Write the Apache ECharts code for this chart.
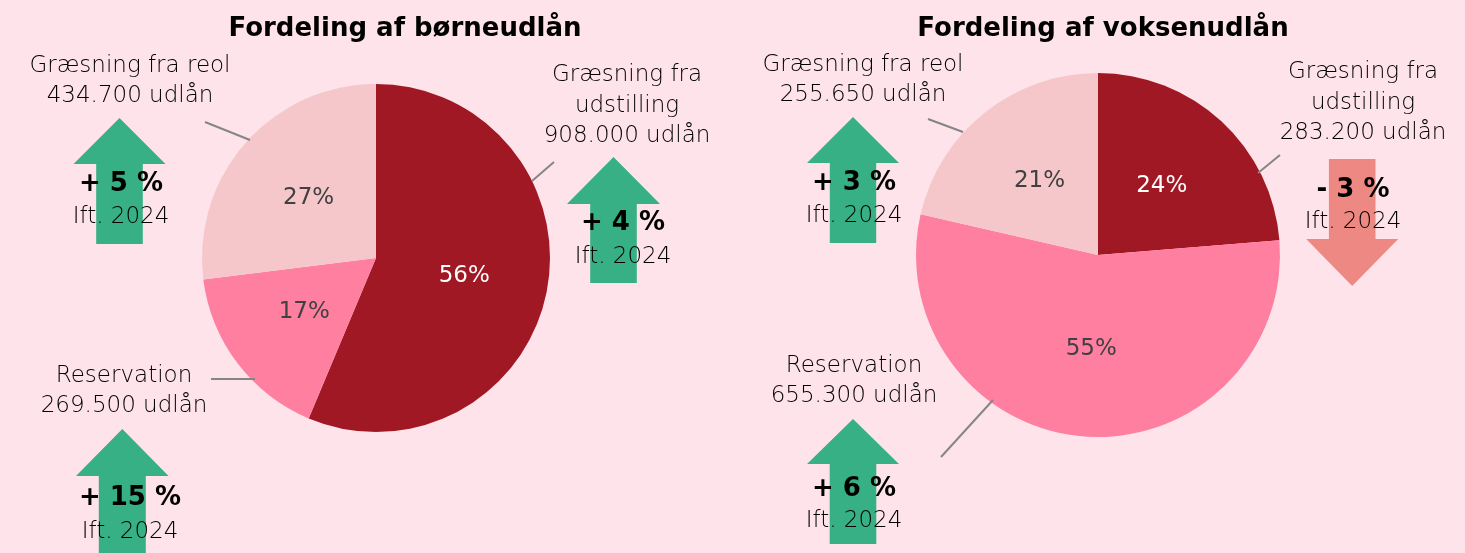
<!DOCTYPE html>
<html>
<head>
<meta charset="utf-8">
<script src="https://cdn.jsdelivr.net/npm/echarts@6/dist/echarts.min.js"></script>
<style>
html,body{margin:0;padding:0;background:#FEE4EA;}
#c{width:1465px;height:553px;}
</style>
</head>
<body>
<div id="c"></div>
<script>
// ---- data ----
const titles = ['Fordeling af børneudlån', 'Fordeling af voksenudlån'];
const categories = ['Græsning fra udstilling', 'Reservation', 'Græsning fra reol'];
const childValues = [908000, 269500, 434700];
const adultValues = [283200, 655300, 255650];
const childChange = [4, 15, 5];   // % vs 2024
const adultChange = [-3, 6, 3];
const compareLabel = 'Ift. 2024';

const sliceColors = ['#A11825', '#FF7FA1', '#F5C7CA'];
const insideLabelColors = ['#FFFFFF', '#404040', '#404040'];
const FONT = 'DejaVu Sans';

function fmt(v){ return String(v).replace(/\B(?=(\d{3})+(?!\d))/g, '.') + ' udlån'; }
function labelLines(i, v){
  if (i === 0) return 'Græsning fra\nudstilling\n' + fmt(v);
  if (i === 1) return 'Reservation\n' + fmt(v);
  return 'Græsning fra reol\n' + fmt(v);
}
function changeText(c){ return (c >= 0 ? '+ ' : '- ') + Math.abs(c) + ' %'; }

function pieSeries(values, center, radius){
  return {
    type: 'pie',
    center: center,
    radius: radius,
    startAngle: 90,
    clockwise: true,
    silent: true,
    label: {
      show: true, position: 'inside',
      fontFamily: FONT, fontSize: 23, fontWeight: 'normal',
      formatter: p => Math.round(p.percent) + '%'
    },
    labelLine: { show: false },
    data: values.map((v, i) => ({
      name: categories[i], value: v,
      itemStyle: { color: sliceColors[i] },
      label: { color: insideLabelColors[i] }
    }))
  };
}

// layout (positions only)
const labelPos = [
  [[627, 106], [124, 391], [130, 81]],
  [[1363, 103], [854, 381], [863, 80]]
];
const leaderLines = [
  [[[532, 181], [554, 162]], [[211, 379], [255, 379]], [[205, 122], [250, 140]]],
  [[[1258, 173], [1280, 155]], [[941, 457], [993, 400]], [[928, 119], [963, 132]]]
];
// arrow geometry: cx, tipY, headBaseY, endY, headHalf, shaftHalf
const arrowGeom = [
  [[613.5, 157, 204, 283, 46.5, 23.3], [122.3, 429, 476, 560, 46.3, 23.5], [119.5, 118, 164, 244, 46, 23.3]],
  [[1352.2, 286, 239, 159, 46, 23.3], [853, 419, 464, 544, 46, 23.3], [853, 117, 163, 243, 46, 23.2]]
];
const changeTextPos = [
  [[623, 223, 257], [130, 498, 532], [121, 184, 217]],
  [[1353, 190, 222], [854, 489, 521], [854, 183, 216]]
];

const graphics = [];
[childValues, adultValues].forEach((vals, p) => {
  const changes = p === 0 ? childChange : adultChange;
  vals.forEach((v, i) => {
    const [x, y] = labelPos[p][i];
    graphics.push({
      type: 'text', x: x, y: y, z: 5,
      style: { text: labelLines(i, v), fill: '#000', font: '300 23px "' + FONT + '"',
               align: 'center', verticalAlign: 'middle', lineHeight: 30.5 }
    });
    const ln = leaderLines[p][i];
    graphics.push({ type: 'line', z: 5,
      shape: { x1: ln[0][0], y1: ln[0][1], x2: ln[1][0], y2: ln[1][1] },
      style: { stroke: '#858585', lineWidth: 2 } });
    const [cx, tip, hb, end, hh, sh] = arrowGeom[p][i];
    const up = changes[i] >= 0;
    graphics.push({ type: 'polygon', z: 3,
      shape: { points: [[cx, tip], [cx + hh, hb], [cx + sh, hb], [cx + sh, end], [cx - sh, end], [cx - sh, hb], [cx - hh, hb]] },
      style: { fill: up ? '#36B084' : '#EE8882' } });
    const [tx, ty1, ty2] = changeTextPos[p][i];
    graphics.push({ type: 'text', x: tx, y: ty1, z: 6,
      style: { text: changeText(changes[i]), fill: '#000', font: 'bold 26px "' + FONT + '"',
               align: 'center', verticalAlign: 'middle' } });
    graphics.push({ type: 'text', x: tx, y: ty2, z: 6,
      style: { text: compareLabel, fill: '#000', font: '300 23px "' + FONT + '"',
               align: 'center', verticalAlign: 'middle' } });
  });
});

const chart = echarts.init(document.getElementById('c'), null, { renderer: 'canvas' });
chart.setOption({
  backgroundColor: '#FEE4EA',
  animation: false,
  title: [
    { text: titles[0], left: 400, top: 24, textAlign: 'center', textVerticalAlign: 'middle',
      textStyle: { fontFamily: FONT, fontWeight: 'bold', fontSize: 26, color: '#000' } },
    { text: titles[1], left: 1098, top: 24, textAlign: 'center', textVerticalAlign: 'middle',
      textStyle: { fontFamily: FONT, fontWeight: 'bold', fontSize: 26, color: '#000' } }
  ],
  series: [
    pieSeries(childValues, [376, 258], 174),
    pieSeries(adultValues, [1098, 255], 182)
  ],
  graphic: graphics
});
</script>
</body>
</html>
